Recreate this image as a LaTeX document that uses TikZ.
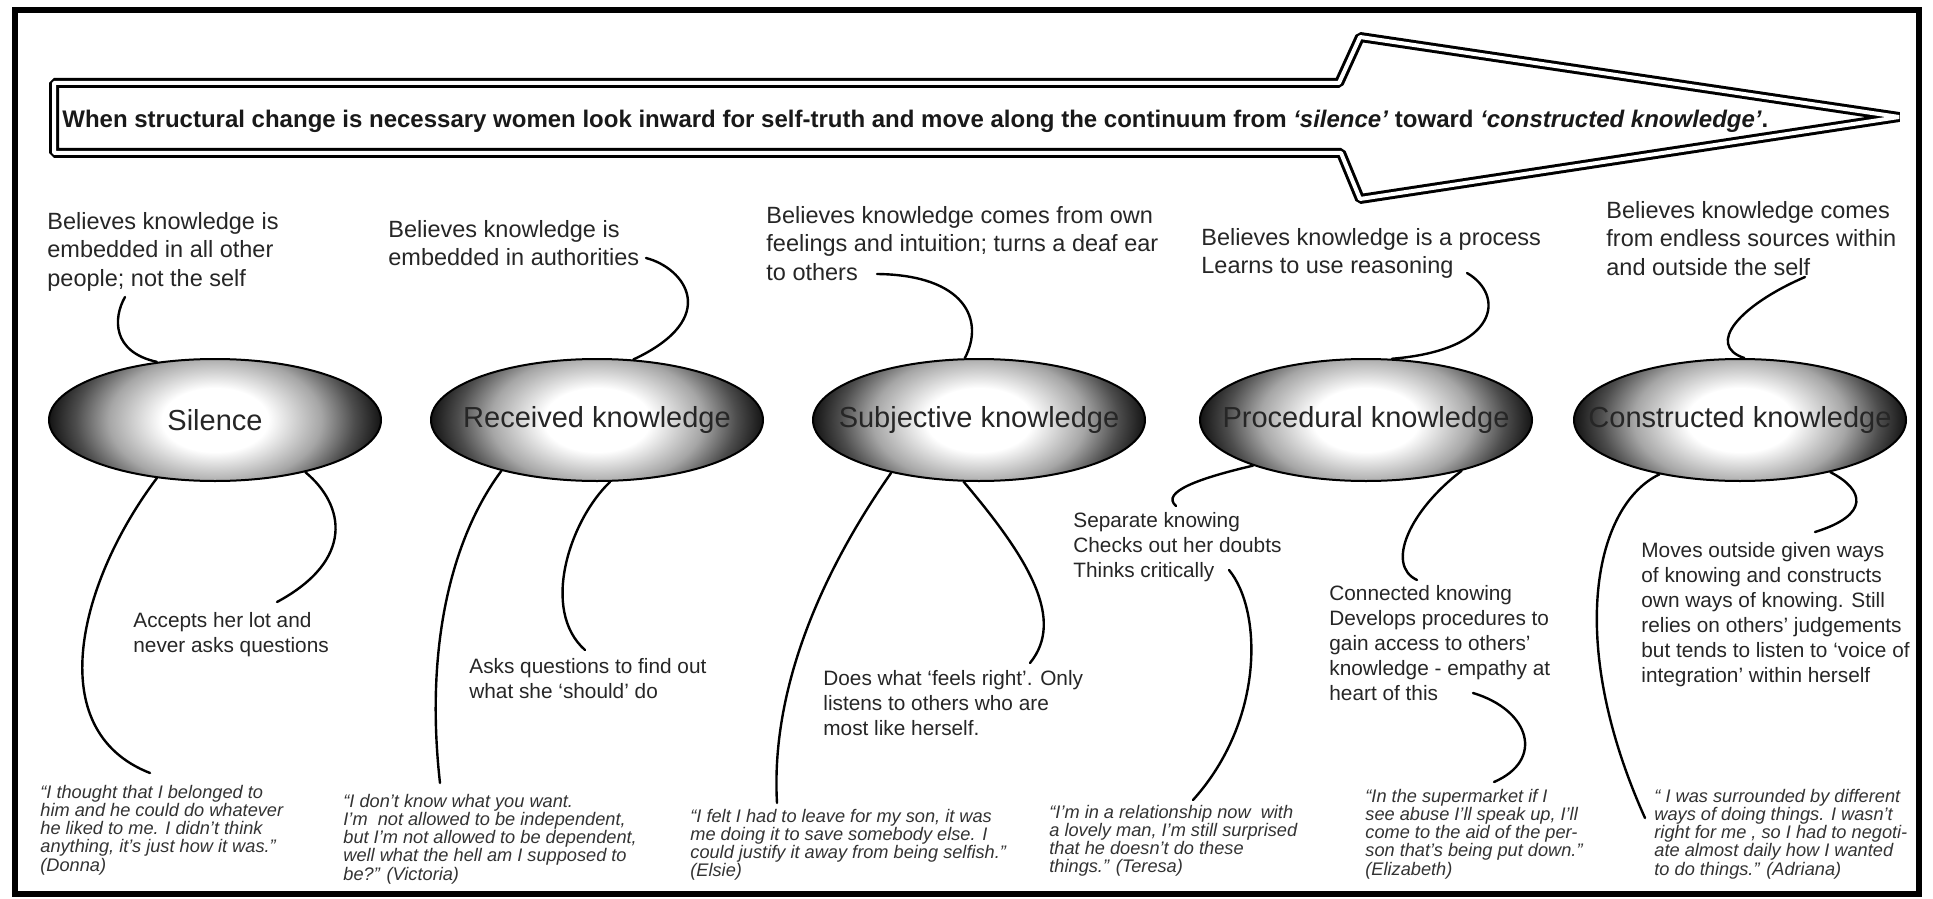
\documentclass[tikz,border=0pt]{standalone}
\usepackage{fontspec}
\setmainfont{Liberation Sans}
\usetikzlibrary{shapes.geometric}

% lines of a text block; the block's baseline is that of its first line
\newcommand\textlines[1]{\vtop{\let\\\cr\halign{##\hfil\cr#1\crcr}}}

% white centre fading to dark at the rim of each stage lens
\pgfdeclareradialshading{lensshade}{\pgfpoint{0bp}{0bp}}{%
  color(0bp)=(white); color(8bp)=(white); color(16bp)=(black!35);
  color(21bp)=(black!70); color(25bp)=(black!92); color(50bp)=(black!92)}

\tikzset{
  toptext/.style={anchor=base west, inner sep=0pt, text=black!85,
    font=\fontsize{11.75pt}{14.25pt}\selectfont},
  desc/.style={anchor=base west, inner sep=0pt, text=black!85,
    font=\fontsize{10.4pt}{12.5pt}\selectfont},
  quote/.style={anchor=base west, inner sep=0pt, text=black!80,
    font=\fontsize{9.1pt}{9.15pt}\selectfont\itshape},
  lens/.style={ellipse, draw=black, line width=1pt, inner sep=0pt,
    minimum width=166pt, minimum height=61pt, text=black!85,
    font=\fontsize{14.5pt}{17pt}\selectfont,
    path picture={\shade[shading=lensshade] (path picture bounding box.center)
      ellipse [x radius=83pt, y radius=50pt];}},
  link/.style={line width=1.2pt, line cap=round},
}

\begin{document}
\begin{tikzpicture}[x=0.5pt, y=-0.5pt]
\useasboundingbox (0,0) rectangle (1933,899);
\fill[white] (0,0) rectangle (1933,899);

% outer frame
\draw[line width=3pt] (15,10) rectangle (1919,894);

% continuum arrow
\draw[line width=1.5pt, double distance=2pt, line join=bevel]
  (54,83) -- (1339,83) -- (1360,37) -- (1899,117) -- (1360,199)
  -- (1341,153) -- (54,153) -- cycle;
\node[anchor=base west, inner sep=0pt, text=black!90,
      font=\fontsize{12pt}{14pt}\selectfont\bfseries] (head) at (62,127)
  {When structural change is necessary women look inward for self-truth and move along the continuum from \textit{‘silence’} toward \textit{‘constructed knowledge’}.};

% stages
\node[lens] (e1) at (215,420) {\makebox[0pt]{Silence}};
\node[lens] (e2) at (597,420) {\makebox[0pt]{Received knowledge}};
\node[lens] (e3) at (979,420) {\makebox[0pt]{Subjective knowledge}};
\node[lens] (e4) at (1366,420) {\makebox[0pt]{Procedural knowledge}};
\node[lens] (e5) at (1740,420) {\makebox[0pt]{Constructed knowledge}};

% beliefs above the stages
\node[toptext] (t1) at (47,229) {\textlines{Believes knowledge is\\embedded in all other\\people; not the self}};
\node[toptext] (t2) at (388,237) {\textlines{Believes knowledge is\\embedded in authorities}};
\node[toptext] (t3) at (766,223) {\textlines{Believes knowledge comes from own\\feelings and intuition; turns a deaf ear\\to others}};
\node[toptext] (t4) at (1201,245) {\textlines{Believes knowledge is a process\\Learns to use reasoning}};
\node[toptext] (t5) at (1606,218) {\textlines{Believes knowledge comes\\from endless sources within\\and outside the self}};

% behaviours below the stages
\node[desc] (d1) at (133,627) {\textlines{Accepts her lot and\\never asks questions}};
\node[desc] (d2) at (469,673) {\textlines{Asks questions to find out\\what she ‘should’ do}};
\node[desc] (d3) at (823,685) {\textlines{Does what ‘feels right’. Only\\listens to others who are\\most like herself.}};
\node[desc] (d4) at (1073,527) {\textlines{Separate knowing\\Checks out her doubts\\Thinks critically}};
\node[desc] (d5) at (1329,600) {\textlines{Connected knowing\\Develops procedures to\\gain access to others’\\knowledge - empathy at\\heart of this}};
\node[desc] (d6) at (1641,557) {\textlines{Moves outside given ways\\of knowing and constructs\\own ways of knowing. Still\\relies on others’ judgements\\but tends to listen to ‘voice of\\integration’ within herself}};

% voices
\node[quote] (q1) at (40,798) {\textlines{“I thought that I belonged to\\him and he could do whatever\\he liked to me. I didn’t think\\anything, it’s just how it was.”\\(Donna)}};
\node[quote] (q2) at (343,807) {\textlines{“I don’t know what you want.\\I’m\ \ not allowed to be independent,\\but I’m not allowed to be dependent,\\well what the hell am I supposed to\\be?” (Victoria)}};
\node[quote] (q3) at (690,822) {\textlines{“I felt I had to leave for my son, it was\\me doing it to save somebody else. I\\could justify it away from being selfish.”\\(Elsie)}};
\node[quote] (q4) at (1049,818) {\textlines{“I’m in a relationship now\ \ with\\a lovely man, I’m still surprised\\that he doesn’t do these\\things.” (Teresa)}};
\node[quote] (q5) at (1365,802) {\textlines{“In the supermarket if I\\see abuse I’ll speak up, I’ll\\come to the aid of the per-\\son that’s being put down.”\\(Elizabeth)}};
\node[quote] (q6) at (1654,802) {\textlines{“\ I was surrounded by different\\ways of doing things. I wasn’t\\right for me , so I had to negoti-\\ate almost daily how I wanted\\to do things.” (Adriana)}};

% free ends of the connectors, beside their texts
\coordinate (c1) at (125,297);
\coordinate (c2) at (646,258);
\coordinate (c3) at (877,274);
\coordinate (c4) at (1467,273);
\coordinate (c5) at (1805,277);
\coordinate (c6) at (150,773);
\coordinate (c7) at (277,602);
\coordinate (c8) at (440,783);
\coordinate (c9) at (585,650);
\coordinate (c10) at (777,803);
\coordinate (c11) at (1030,663);
\coordinate (c12) at (1176,506);
\coordinate (c13a) at (1229,570);
\coordinate (c13b) at (1193,800);
\coordinate (c14) at (1417,580);
\coordinate (c15a) at (1473,693);
\coordinate (c15b) at (1494,782);
\coordinate (c16) at (1645,818);
\coordinate (c17) at (1815,532);

% connectors
\draw[link] (c1) .. controls (113,318) and (112,352) .. (e1.135);
\draw[link] (c2) .. controls (685,268) and (722,318) .. (e2.59);
\draw[link] (c3) .. controls (965,275) and (985,320) .. (e3.103);
\draw[link] (c4) .. controls (1505,295) and (1500,350) .. (e4.67);
\draw[link] (c5) .. controls (1740,305) and (1705,345) .. (e5.86);
\draw[link] (e1.-135) .. controls (80,580) and (40,730) .. (c6);
\draw[link] (e1.-30) .. controls (345,505) and (355,560) .. (c7);
\draw[link] (e2.-152) .. controls (450,540) and (425,650) .. (c8);
\draw[link] (e2.-78) .. controls (570,520) and (540,610) .. (c9);
\draw[link] (e3.-149) .. controls (830,560) and (770,680) .. (c10);
\draw[link] (e3.-104) .. controls (1030,560) and (1065,620) .. (c11);
\draw[link] (e4.-158) .. controls (1200,478) and (1160,492) .. (c12);
\draw[link] (c13a) .. controls (1262,610) and (1265,720) .. (c13b);
\draw[link] (e4.-28) .. controls (1410,510) and (1385,565) .. (c14);
\draw[link] (c15a) .. controls (1530,710) and (1545,760) .. (c15b);
\draw[link] (e5.-146) .. controls (1595,505) and (1565,640) .. (c16);
\draw[link] (e5.-30) .. controls (1865,490) and (1870,515) .. (c17);
\end{tikzpicture}
\end{document}
